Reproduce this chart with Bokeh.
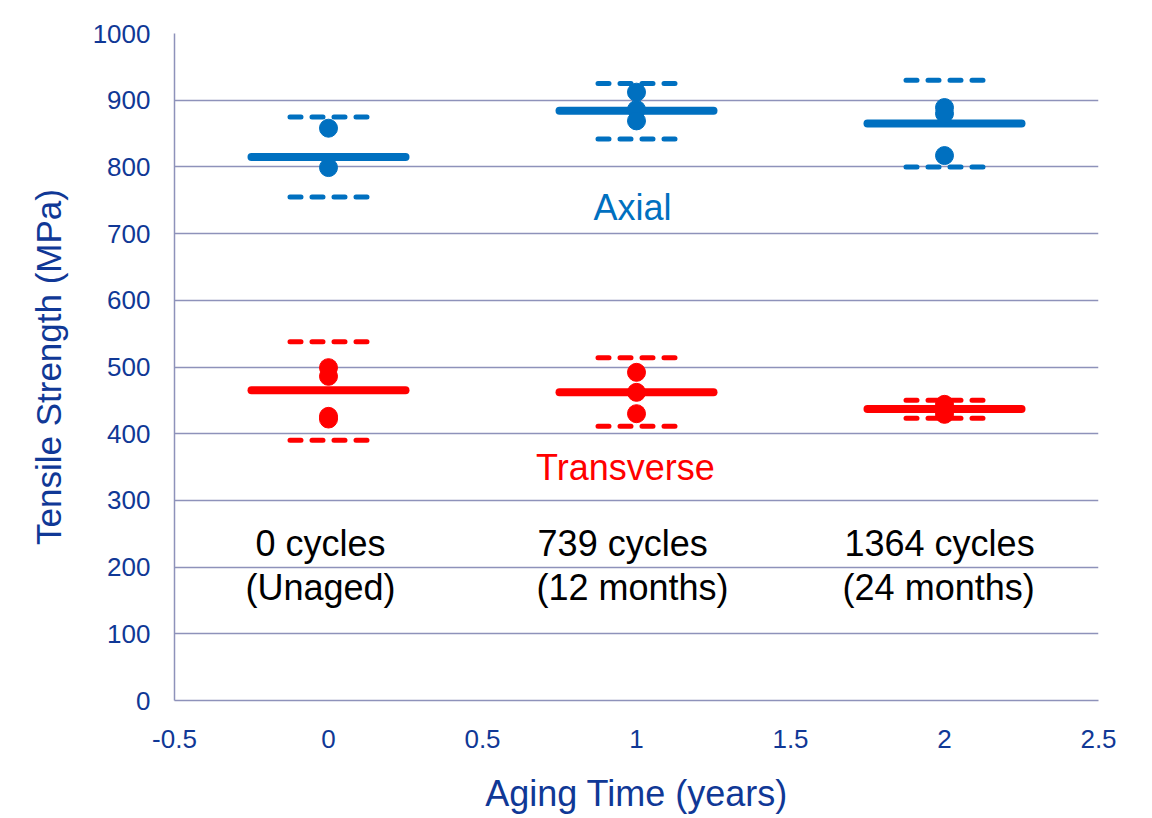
from bokeh.plotting import figure
from bokeh.models import FixedTicker, ColumnDataSource
from bokeh.core.properties import value
from bokeh.embed import file_html
from bokeh.resources import INLINE

# ---- data ----
years = [0, 1, 2]
axial_mean = [815, 884, 865]
axial_upper = [875, 925, 930]
axial_lower = [755, 842, 800]
axial_pt_x = [0, 0, 1, 1, 1, 2, 2, 2]
axial_pt_y = [858, 799, 912, 886, 869, 889, 880, 817]

trans_mean = [465, 462, 437]
trans_upper = [538, 514, 450]
trans_lower = [390, 411, 423]
trans_pt_x = [0, 0, 0, 0, 1, 1, 1, 2, 2, 2]
trans_pt_y = [499, 486, 426, 422, 492, 462, 430, 444, 436, 429]

x_ticks = [-0.5, 0, 0.5, 1, 1.5, 2, 2.5]
x_tick_labels = ["-0.5", "0", "0.5", "1", "1.5", "2", "2.5"]
y_ticks = [0, 100, 200, 300, 400, 500, 600, 700, 800, 900, 1000]

cycle_lines = ["0 cycles", "739 cycles", "1364 cycles"]
cycle_lines_x = [-0.026, 0.955, 1.984]
month_lines = ["(Unaged)", "(12 months)", "(24 months)"]
month_lines_x = [-0.026, 0.987, 1.981]

series_names = ["Axial", "Transverse"]
series_name_x = [0.987, 0.964]
series_name_y = [739, 349]

# ---- style ----
BLUE = "#0070C0"
RED = "#FF0000"
TXT = "#103896"
GRID = "#8E92BA"
FONT = "Liberation Sans"
MEAN_HALF = 0.25
SD_HALF = 0.125

p = figure(frame_width=924, frame_height=667,
           min_border_left=174, min_border_right=46,
           min_border_top=33, min_border_bottom=112,
           x_range=(-0.5, 2.5), y_range=(0, 1000),
           output_backend="svg", toolbar_location=None)
p.outline_line_color = None
p.background_fill_color = "white"

p.xaxis.ticker = FixedTicker(ticks=x_ticks)
p.xaxis.major_label_overrides = {t: l for t, l in zip(x_ticks, x_tick_labels)}
p.yaxis.ticker = FixedTicker(ticks=y_ticks)

for ax in (p.xaxis, p.yaxis):
    ax.axis_line_color = GRID
    ax.axis_line_width = 1.5
    ax.major_tick_out = 0
    ax.major_tick_in = 0
    ax.minor_tick_out = 0
    ax.minor_tick_in = 0
    ax.major_label_text_font = FONT
    ax.major_label_text_font_size = "26px"
    ax.major_label_text_color = TXT
    ax.axis_label_text_font = FONT
    ax.axis_label_text_font_style = "normal"
    ax.axis_label_text_color = TXT

p.xaxis.axis_label = "Aging Time (years)"
p.xaxis.axis_label_text_font_size = "36px"
p.xaxis.major_label_standoff = 29
p.xaxis.axis_label_standoff = 22
p.yaxis.axis_label = "Tensile Strength (MPa)"
p.yaxis.axis_label_text_font_size = "35px"
p.yaxis.major_label_standoff = 24
p.yaxis.axis_label_standoff = 22

p.xgrid.grid_line_color = None
p.ygrid.grid_line_color = GRID
p.ygrid.grid_line_width = 1.5

def draw_series(mean, upper, lower, px, py, color):
    src = ColumnDataSource(dict(
        x=years, mean=mean, upper=upper, lower=lower,
        x0=[x - MEAN_HALF for x in years], x1=[x + MEAN_HALF for x in years],
        d0=[x - SD_HALF for x in years], d1=[x + SD_HALF for x in years]))
    p.segment(x0="d0", x1="d1", y0="upper", y1="upper", source=src,
              line_color=color, line_width=5, line_dash="11 11", line_cap="round")
    p.segment(x0="d0", x1="d1", y0="lower", y1="lower", source=src,
              line_color=color, line_width=5, line_dash="11 11", line_cap="round")
    p.segment(x0="x0", x1="x1", y0="mean", y1="mean", source=src,
              line_color=color, line_width=8, line_cap="round")
    p.scatter(px, py, size=18, color=color, line_color=color)

draw_series(axial_mean, axial_upper, axial_lower, axial_pt_x, axial_pt_y, BLUE)
draw_series(trans_mean, trans_upper, trans_lower, trans_pt_x, trans_pt_y, RED)

p.text(x=cycle_lines_x, y=[235] * 3, text=cycle_lines, text_color="black",
       text_font=value(FONT), text_font_size=value("36px"),
       text_align="center", text_baseline="middle")
p.text(x=month_lines_x, y=[169] * 3, text=month_lines, text_color="black",
       text_font=value(FONT), text_font_size=value("36px"),
       text_align="center", text_baseline="middle")
p.text(x=series_name_x, y=series_name_y, text=series_names,
       text_color=[BLUE, RED],
       text_font=value(FONT), text_font_size=value("36px"),
       text_align="center", text_baseline="middle")

open("out.html", "w").write(file_html(p, INLINE))
